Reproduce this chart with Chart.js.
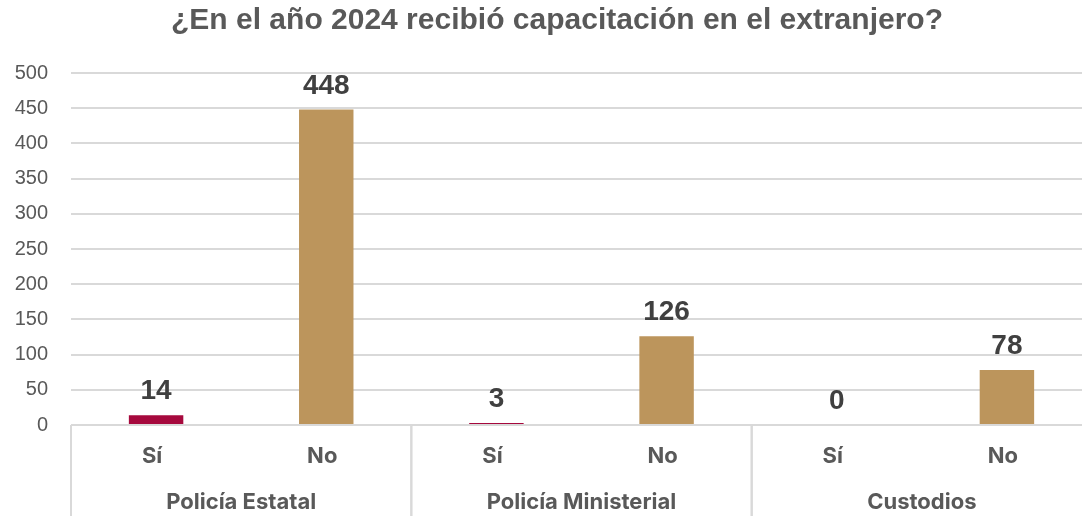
<!DOCTYPE html>
<html lang="es">
<head>
  <meta charset="UTF-8" />
  <title>Capacitación en el extranjero</title>
  <script src="https://cdn.jsdelivr.net/npm/chart.js"></script>
  <style>
    html, body { margin: 0; padding: 0; background: #fff; overflow: hidden; }
    .wrap { width: 1100px; height: 516px; }
  </style>
</head>
<body>
  <div class="wrap"><canvas id="chart"></canvas></div>

  <script>
    const TITLE = "¿En el año 2024 recibió capacitación en el extranjero?";
    const groups = ["Policía Estatal", "Policía Ministerial", "Custodios"];
    const answers = ["Sí", "No"];
    const values = [14, 448, 3, 126, 0, 78];
    const yTicks = [0, 50, 100, 150, 200, 250, 300, 350, 400, 450, 500];
    const answerColors = { "Sí": "#A6093D", "No": "#BC955C" };

    const labels = [];
    groups.forEach(() => answers.forEach(a => labels.push(a)));

    const GRAY = "#595959";
    const LINE = "#D9D9D9";

    // title, data labels and the two-level category axis
    const extras = {
      id: "extras",
      afterDraw(chart) {
        const { ctx, chartArea } = chart;
        const x = chart.scales.x;
        const meta = chart.getDatasetMeta(0);
        ctx.save();

        ctx.fillStyle = GRAY;
        ctx.font = "bold 30px 'Liberation Sans', Arial, sans-serif";
        ctx.textAlign = "center";
        ctx.textBaseline = "middle";
        ctx.fillText(TITLE, 557, 21);

        // value labels
        ctx.fillStyle = "#404040";
        ctx.font = "bold 28px 'Liberation Sans', Arial, sans-serif";
        ctx.textBaseline = "alphabetic";
        meta.data.forEach((bar, i) => {
          ctx.fillText(values[i], bar.x, bar.y - 16);
        });

        // answer labels
        ctx.fillStyle = GRAY;
        ctx.font = "bold 22px Inter, 'Open Sans', sans-serif";
        ctx.textBaseline = "middle";
        labels.forEach((l, i) => {
          ctx.fillText(l, x.getPixelForValue(i) - 4, 456);
        });

        // group labels and separators
        const n = answers.length;
        ctx.strokeStyle = LINE;
        ctx.lineWidth = 2;
        groups.forEach((g, gi) => {
          const first = x.getPixelForValue(gi * n);
          const last = x.getPixelForValue(gi * n + n - 1);
          const half = (last - first) / (n - 1) / 2;
          const left = first - half;
          const right = last + half;
          ctx.fillText(g, (left + right) / 2, 502);
          [left, right].forEach(px => {
            ctx.beginPath();
            ctx.moveTo(px, chartArea.bottom);
            ctx.lineTo(px, 516);
            ctx.stroke();
          });
        });
        ctx.restore();
      }
    };

    new Chart(document.getElementById("chart"), {
      type: "bar",
      data: {
        labels: labels,
        datasets: [{
          data: values,
          backgroundColor: labels.map(l => answerColors[l]),
          barPercentage: 0.32,
          categoryPercentage: 1
        }]
      },
      options: {
        responsive: true,
        maintainAspectRatio: false,
        animation: false,
        layout: { padding: { top: 73, bottom: 91, left: 0, right: 8 } },
        plugins: { legend: { display: false }, tooltip: { enabled: false } },
        scales: {
          x: { display: false },
          y: {
            min: 0,
            max: 500,
            afterBuildTicks: s => { s.ticks = yTicks.map(v => ({ value: v })); },
            afterFit: s => { s.width = 71; },
            border: { display: false },
            grid: { color: LINE, lineWidth: 2, drawTicks: false },
            ticks: {
              color: GRAY,
              padding: 23,
              font: { family: "'Liberation Sans', Arial, sans-serif", size: 20 }
            }
          }
        }
      },
      plugins: [extras]
    });
  </script>
</body>
</html>
